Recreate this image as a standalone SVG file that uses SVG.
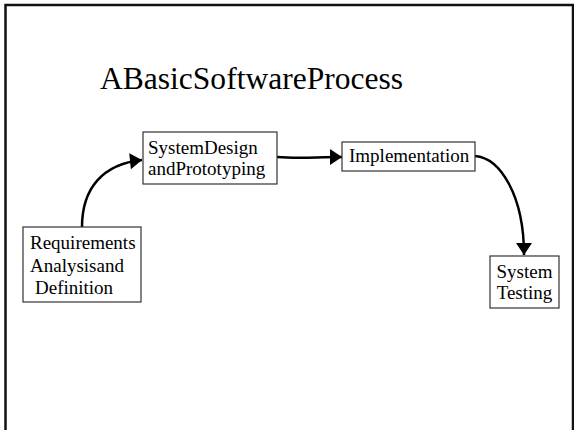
<svg xmlns="http://www.w3.org/2000/svg" width="574" height="430" viewBox="0 0 574 430">
<style>
.box{fill:#fff;stroke:#333;stroke-width:1.2}
.t{font-family:"Liberation Serif","Times New Roman",serif;font-size:19px;fill:#000}
.c{fill:none;stroke:#000;stroke-width:2.5}
</style>
<defs>
<marker id="ah" markerUnits="userSpaceOnUse" markerWidth="14" markerHeight="18" refX="12" refY="8" orient="auto" overflow="visible">
<path d="M0,0 L12,8 L0,16 Z" fill="#000"/>
</marker>
</defs>
<rect width="574" height="430" fill="#fff"/>
<rect x="5.5" y="5" width="567.5" height="450" fill="none" stroke="#111" stroke-width="2.5"/>
<text id="title" x="100" y="89" font-family="Liberation Serif, Times New Roman, serif" font-size="31.5" textLength="303" lengthAdjust="spacingAndGlyphs">ABasicSoftwareProcess</text>
<g id="connectors">
<path class="c" d="M82,227 C82,188 103,164 142,160" marker-end="url(#ah)"/>
<path class="c" d="M277,157 C300,159 315,157 342,157" marker-end="url(#ah)"/>
<path class="c" d="M475,156 C500,158 524,195 524,255" marker-end="url(#ah)"/>
</g>
<g id="n-req">
<rect class="box" x="23" y="227" width="118" height="75"/>
<text class="t" x="30" y="249">Requirements</text>
<text class="t" x="30" y="272">Analysisand</text>
<text class="t" x="35" y="294">Definition</text>
</g>
<g id="n-design">
<rect class="box" x="143" y="132" width="134" height="52"/>
<text class="t" x="148" y="154">SystemDesign</text>
<text class="t" x="148" y="175">andPrototyping</text>
</g>
<g id="n-impl">
<rect class="box" x="342" y="142" width="133" height="29"/>
<text class="t" x="349" y="162">Implementation</text>
</g>
<g id="n-test">
<rect class="box" x="490" y="256" width="69" height="52"/>
<text class="t" x="524.5" y="278" text-anchor="middle">System</text>
<text class="t" x="524.5" y="299" text-anchor="middle">Testing</text>
</g>
</svg>
